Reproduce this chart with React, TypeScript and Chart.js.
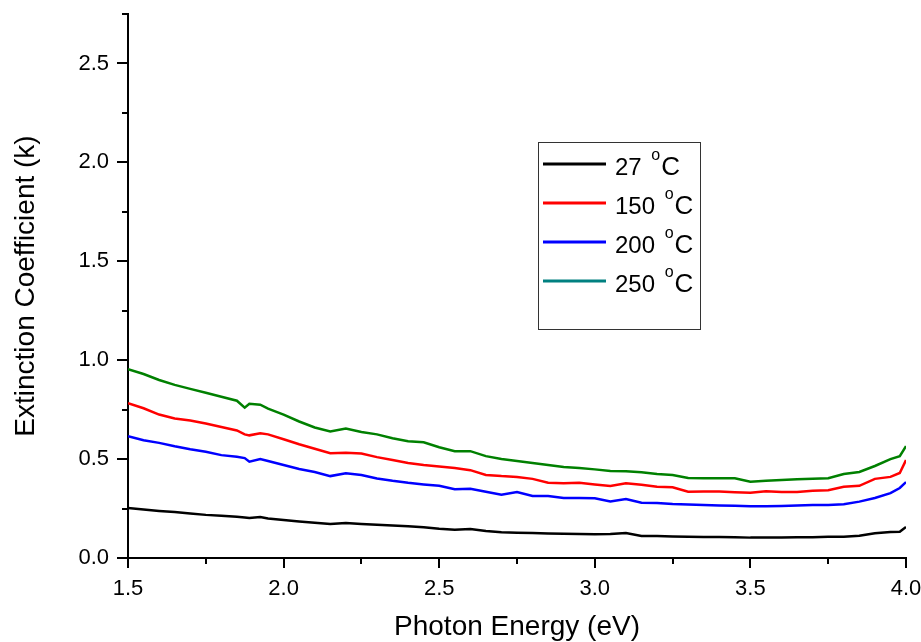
import React, { useEffect, useRef } from "react";
import { Chart, registerables } from "chart.js";

Chart.register(...registerables);

const energy = [
  1.5, 1.55, 1.6, 1.65, 1.7, 1.75, 1.8, 1.85, 1.875, 1.89, 1.925, 1.95, 2.0, 2.05, 2.1, 2.15, 2.2, 2.25,
  2.3, 2.35, 2.4, 2.45, 2.5, 2.55, 2.6, 2.65, 2.7, 2.75, 2.8, 2.85, 2.9, 2.95, 3.0, 3.05, 3.1, 3.15,
  3.2, 3.25, 3.3, 3.35, 3.4, 3.45, 3.5, 3.55, 3.6, 3.65, 3.7, 3.75, 3.8, 3.85, 3.9, 3.95, 3.98, 4.0,
];

const k27 = [
  0.253, 0.245, 0.238, 0.232, 0.225, 0.218, 0.213, 0.208, 0.205, 0.202, 0.207, 0.2, 0.192, 0.185, 0.178, 0.172, 0.177, 0.172,
  0.168, 0.164, 0.16, 0.155, 0.148, 0.143, 0.146, 0.136, 0.13, 0.128, 0.126, 0.124, 0.122, 0.121, 0.12, 0.121, 0.126, 0.111,
  0.111, 0.109, 0.107, 0.106, 0.106, 0.105, 0.103, 0.103, 0.104, 0.105, 0.105, 0.107, 0.108, 0.112, 0.125, 0.131, 0.133, 0.157,
];

const k150 = [
  0.783, 0.757, 0.725, 0.705, 0.695, 0.68, 0.662, 0.645, 0.625, 0.62, 0.63, 0.625, 0.6, 0.575, 0.552, 0.53, 0.532, 0.528,
  0.51, 0.495, 0.48, 0.47, 0.462, 0.455, 0.444, 0.42, 0.414, 0.41, 0.4, 0.38, 0.378, 0.38, 0.372, 0.364, 0.378, 0.37,
  0.36, 0.358, 0.335, 0.336, 0.336, 0.333, 0.33, 0.338, 0.334, 0.334, 0.34, 0.343, 0.36, 0.365, 0.4, 0.41, 0.43, 0.495,
];

const k200 = [
  0.616, 0.595, 0.582, 0.565, 0.55, 0.537, 0.52, 0.512, 0.505, 0.487, 0.5, 0.49, 0.47, 0.45, 0.435, 0.414, 0.428, 0.42,
  0.402, 0.39, 0.38, 0.372, 0.365, 0.348, 0.35, 0.335, 0.32, 0.333, 0.313, 0.313, 0.303, 0.303, 0.302, 0.286, 0.298, 0.279,
  0.278, 0.273, 0.27, 0.268, 0.266, 0.264, 0.262, 0.262, 0.263, 0.265, 0.268, 0.268, 0.272, 0.285, 0.303, 0.328, 0.354, 0.384,
];

const k250 = [
  0.955, 0.93, 0.9, 0.875, 0.855, 0.835, 0.815, 0.795, 0.76, 0.78, 0.775, 0.755, 0.725, 0.69, 0.66, 0.64, 0.655, 0.637,
  0.625, 0.605, 0.59, 0.585, 0.56, 0.54, 0.54, 0.515, 0.5, 0.49, 0.48, 0.47, 0.46, 0.455, 0.448, 0.44, 0.438, 0.434,
  0.425, 0.42, 0.405, 0.403, 0.403, 0.403, 0.385, 0.39, 0.394, 0.398, 0.4, 0.403, 0.425, 0.435, 0.465, 0.5, 0.515, 0.566,
];

const seriesTemps = ["27", "150", "200", "250"];
const seriesValues = [k27, k150, k200, k250];
const lineColors = ["#000000", "#FF0000", "#0000FF", "#008000"];
const legendColors = ["#000000", "#FF0000", "#0000FF", "#008080"];
const yMinorTicks = [0.25, 0.75, 1.25, 1.75, 2.25, 2.75];
const xMinorTicks = [1.75, 2.25, 2.75, 3.25, 3.75];

const FONT = "Arial, 'Liberation Sans', sans-serif";

const minorTickPlugin = {
  id: "minorTicks",
  afterDraw(chart: any) {
    const { ctx, chartArea, scales } = chart;
    ctx.save();
    ctx.strokeStyle = "#000";
    ctx.lineWidth = 2;
    ctx.beginPath();
    for (const v of yMinorTicks) {
      const y = Math.round(scales.y.getPixelForValue(v));
      ctx.moveTo(chartArea.left - 6, y);
      ctx.lineTo(chartArea.left, y);
    }
    for (const v of xMinorTicks) {
      const x = Math.round(scales.x.getPixelForValue(v));
      ctx.moveTo(x, chartArea.bottom);
      ctx.lineTo(x, chartArea.bottom + 6);
    }
    ctx.stroke();
    ctx.restore();
  },
};

const legendPlugin = {
  id: "customLegend",
  afterDraw(chart: any) {
    const { ctx, chartArea } = chart;
    const bx = chartArea.left + 410;
    const by = chartArea.top + 128;
    const bw = 162;
    const bh = 187;
    ctx.save();
    ctx.strokeStyle = "#333";
    ctx.lineWidth = 1;
    ctx.strokeRect(bx + 0.5, by + 0.5, bw, bh);
    seriesTemps.forEach((t, i) => {
      const ly = by + 22 + i * 39;
      ctx.strokeStyle = legendColors[i];
      ctx.lineWidth = 3;
      ctx.beginPath();
      ctx.moveTo(bx + 5, ly);
      ctx.lineTo(bx + 68, ly);
      ctx.stroke();
      ctx.fillStyle = "#000";
      ctx.textBaseline = "alphabetic";
      ctx.textAlign = "left";
      ctx.font = `24px ${FONT}`;
      let tx = bx + 77;
      const main = t + " ";
      ctx.fillText(main, tx, ly + 11);
      tx += ctx.measureText(main).width + 3;
      ctx.font = `16px ${FONT}`;
      ctx.fillText("o", tx, ly - 4);
      tx += ctx.measureText("o").width + 1;
      ctx.font = `26px ${FONT}`;
      ctx.fillText("C", tx, ly + 11);
    });
    ctx.restore();
  },
};

export default function App() {
  const ref = useRef<HTMLCanvasElement>(null);

  useEffect(() => {
    document.body.style.margin = "0";
    const canvas = ref.current;
    if (!canvas) return;
    const chart = new Chart(canvas, {
      type: "line",
      data: {
        datasets: seriesValues.map((vals, i) => ({
          label: `${seriesTemps[i]} °C`,
          data: energy.map((e, j) => ({ x: e, y: vals[j] })),
          borderColor: lineColors[i],
          backgroundColor: lineColors[i],
          borderWidth: 2.5,
          pointRadius: 0,
          tension: 0,
          fill: false,
        })),
      },
      options: {
        responsive: false,
        animation: false,
        layout: { padding: { left: 0, right: 15, top: 14, bottom: 0 } },
        plugins: {
          legend: { display: false },
          tooltip: { enabled: false },
        },
        scales: {
          x: {
            type: "linear",
            min: 1.5,
            max: 4.0,
            afterFit: (s: any) => {
              s.height = 84;
              s.paddingLeft = 0;
              s.paddingRight = 0;
            },
            ticks: {
              stepSize: 0.5,
              color: "#000",
              font: { family: FONT, size: 22 },
              padding: 8,
              maxRotation: 0,
              callback: (v: any) => Number(v).toFixed(1),
            },
            grid: {
              drawOnChartArea: false,
              drawTicks: true,
              tickLength: 10,
              color: "#000",
              lineWidth: 2,
            },
            border: { display: true, color: "#000", width: 2 },
            title: {
              display: true,
              text: "Photon Energy (eV)",
              color: "#000",
              font: { family: FONT, size: 28 },
              padding: { top: 0, bottom: -2 },
            },
          },
          y: {
            type: "linear",
            min: 0,
            max: 2.75,
            afterBuildTicks: (s: any) => {
              s.ticks = s.ticks.filter((t: any) => Math.abs(t.value * 2 - Math.round(t.value * 2)) < 1e-6);
            },
            afterFit: (s: any) => {
              s.width = 128;
              s.paddingTop = 0;
              s.paddingBottom = 0;
            },
            ticks: {
              stepSize: 0.5,
              color: "#000",
              font: { family: FONT, size: 22 },
              padding: 8,
              callback: (v: any) => Number(v).toFixed(1),
            },
            grid: {
              drawOnChartArea: false,
              drawTicks: true,
              tickLength: 11,
              color: "#000",
              lineWidth: 2,
            },
            border: { display: true, color: "#000", width: 2 },
            title: {
              display: true,
              text: "Extinction Coefficient (k)",
              color: "#000",
              font: { family: FONT, size: 28 },
              padding: { top: 9, bottom: 0 },
            },
          },
        },
      },
      plugins: [minorTickPlugin, legendPlugin],
    });
    return () => chart.destroy();
  }, []);

  return (
    <div style={{ width: 921, height: 642 }}>
      <canvas ref={ref} width={921} height={642} />
    </div>
  );
}
